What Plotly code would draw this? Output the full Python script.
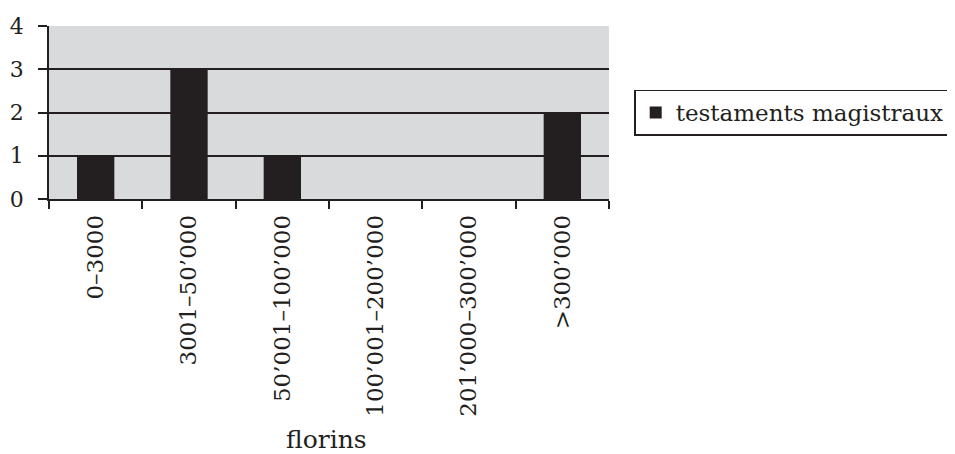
import plotly.graph_objects as go

categories = ["0–3000", "3001–50’000", "50’001–100’000", "100’001–200’000", "201’000–300’000", ">300’000"]
values = [1, 3, 1, 0, 0, 2]
series_name = "testaments magistraux"
y_ticks = [0, 1, 2, 3, 4]
x_title = "florins"

FONT = "DejaVu Serif"
INK = "#231f20"

fig = go.Figure()
fig.add_trace(go.Bar(
    x=categories, y=values, name=series_name,
    marker=dict(color=INK, line=dict(width=0)),
    width=0.4, showlegend=True,
))

fig.update_layout(
    width=955, height=454,
    margin=dict(l=41, r=354, t=18, b=263, autoexpand=False),
    paper_bgcolor="white", plot_bgcolor="#d9dadb",
    font=dict(family=FONT, color=INK),
    showlegend=True,
    legend=dict(
        x=1.045, xanchor="left", y=0.5, yanchor="middle",
        bordercolor=INK, borderwidth=1.5,
        font=dict(size=23, family=FONT, color=INK),
        itemsizing="constant", bgcolor="white",
        tracegroupgap=0,
    ),
    bargap=0.6,
)

fig.add_annotation(
    text=x_title, xref="paper", yref="paper", x=0.495, y=-1.39,
    xanchor="center", yanchor="middle", showarrow=False,
    font=dict(size=25, family=FONT, color=INK),
)

fig.update_xaxes(
    type="category", range=[-0.5, 5.5], automargin=False,
    tickangle=-90, tickson="boundaries",
    ticks="outside", ticklen=8, tickwidth=1.5, tickcolor=INK,
    showline=True, linecolor=INK, linewidth=1.5,
    showgrid=False,
    tickfont=dict(size=23, family=FONT, color=INK),
    ticklabelstandoff=5,
)

fig.update_yaxes(
    range=[0, 4], tickvals=y_ticks, automargin=False,
    ticks="outside", ticklen=9, tickwidth=1.5, tickcolor=INK,
    showline=True, linecolor=INK, linewidth=1.5,
    showgrid=True, gridcolor=INK, gridwidth=1.5,
    zeroline=False,
    tickfont=dict(size=22, family=FONT, color=INK),
    ticklabelstandoff=10,
)

fig.write_html("out.html")
